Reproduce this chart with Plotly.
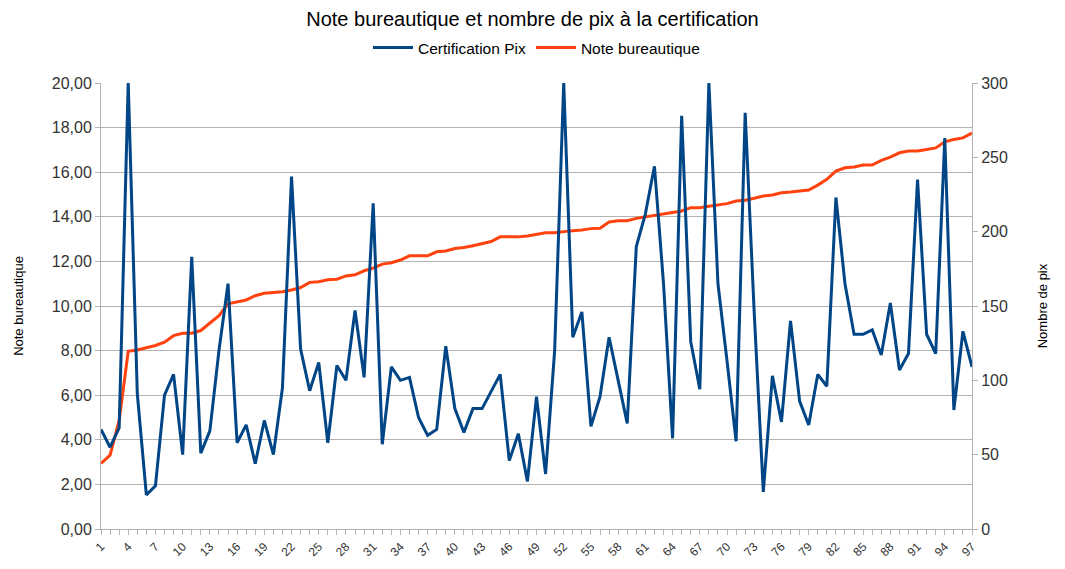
import plotly.graph_objects as go

# category index 1..97
categories = list(range(1, 98))

certification_pix = [
    67, 55, 68, 300, 91, 23, 29, 90, 104, 50,
    183, 51, 66, 120, 165, 58, 70, 44, 73, 50,
    95, 237, 121, 93, 112, 58, 110, 100, 147, 102,
    219, 57, 109, 100, 102, 75, 63, 67, 123, 81,
    65, 81, 81, 93, 104, 46, 64, 32, 89, 37,
    120, 300, 129, 146, 69, 89, 129, 100, 71, 190,
    212, 244, 165, 61, 278, 126, 94, 300, 165, 113,
    59, 280, 145, 25, 103, 72, 140, 86, 70, 104,
    96, 223, 165, 131, 131, 134, 117, 152, 107, 118,
    235, 131, 118, 263, 80, 133, 109,
]

note_bureautique = [
    2.94, 3.31, 4.87, 7.97, 8.03, 8.12, 8.23, 8.38, 8.67, 8.78,
    8.78, 8.90, 9.22, 9.57, 10.10, 10.19, 10.27, 10.46, 10.57, 10.61,
    10.64, 10.72, 10.83, 11.06, 11.09, 11.18, 11.20, 11.35, 11.40, 11.58,
    11.70, 11.88, 11.94, 12.06, 12.25, 12.25, 12.25, 12.43, 12.47, 12.58,
    12.62, 12.70, 12.80, 12.89, 13.10, 13.10, 13.10, 13.14, 13.20, 13.28,
    13.29, 13.35, 13.38, 13.41, 13.47, 13.49, 13.77, 13.82, 13.82, 13.93,
    13.99, 14.07, 14.14, 14.19, 14.26, 14.41, 14.41, 14.47, 14.54, 14.59,
    14.71, 14.74, 14.83, 14.93, 14.98, 15.08, 15.11, 15.14, 15.20, 15.42,
    15.68, 16.05, 16.20, 16.23, 16.32, 16.32, 16.53, 16.68, 16.87, 16.95,
    16.95, 17.02, 17.09, 17.36, 17.47, 17.54, 17.76,
]

left_ticks = [0, 2, 4, 6, 8, 10, 12, 14, 16, 18, 20]
right_ticks = [0, 50, 100, 150, 200, 250, 300]
x_ticks = list(range(1, 98, 3))

BLUE = "#004586"
ORANGE = "#ff420e"
GRID = "#b3b3b3"
FONT = "Liberation Sans, Arial, sans-serif"

# the page body has an 8px margin, so the figure is 16px smaller than the window
W, H = 1049, 553
PLOT_H = 446

fig = go.Figure()
fig.add_trace(go.Scatter(
    x=categories, y=note_bureautique, name="Note bureautique",
    mode="lines", line=dict(color=ORANGE, width=3), yaxis="y", legendrank=2,
))
fig.add_trace(go.Scatter(
    x=categories, y=certification_pix, name="Certification Pix",
    mode="lines", line=dict(color=BLUE, width=3), yaxis="y2", legendrank=1,
))

fig.update_layout(
    width=W, height=H,
    margin=dict(l=93, r=85, t=75, b=32, pad=0, autoexpand=False),
    paper_bgcolor="white", plot_bgcolor="white",
    separators=", ",
    font=dict(family=FONT, size=12, color="#333333"),
    title=dict(text="Note bureautique et nombre de pix à la certification",
               x=0.5, xanchor="center", y=1 - 4 / H, yanchor="top", yref="container",
               pad=dict(t=0, b=0),
               font=dict(size=20, color="#000000", family=FONT)),
    showlegend=True,
    legend=dict(orientation="h", x=0.5, xanchor="center", y=1 + 35 / PLOT_H, yanchor="middle",
                font=dict(size=15.5, color="#000000"), bgcolor="rgba(0,0,0,0)",
                itemwidth=40, tracegroupgap=0),
    xaxis=dict(
        range=[1, 97], tickmode="array", tickvals=x_ticks,
        ticktext=[str(v) for v in x_ticks], automargin=False,
        tickangle=-45, tickfont=dict(size=12, color="#333333"),
        showgrid=False, showline=True, linecolor=GRID, linewidth=1,
        ticks="outside", ticklen=5, tickcolor=GRID,
        minor=dict(dtick=1, tick0=1, ticks="outside", ticklen=5, tickcolor=GRID, showgrid=False),
        zeroline=False,
    ),
    yaxis=dict(
        range=[0, 20], tickmode="array", tickvals=left_ticks, automargin=False,
        tickformat=".2f", tickfont=dict(size=16, color="#333333"),
        showgrid=True, gridcolor=GRID, gridwidth=1,
        showline=True, linecolor=GRID, linewidth=1,
        ticks="outside", ticklen=5, tickcolor=GRID, zeroline=False,
        title=dict(text="Note bureautique", font=dict(size=13, color="#000000"), standoff=25),
    ),
    yaxis2=dict(
        range=[0, 300], tickmode="array", tickvals=right_ticks, automargin=False,
        overlaying="y", side="right", tickfont=dict(size=16, color="#333333"),
        showgrid=False, showline=True, linecolor=GRID, linewidth=1,
        ticks="outside", ticklen=5, tickcolor=GRID, zeroline=False,
        title=dict(text="Nombre de pix", font=dict(size=13, color="#000000"), standoff=30),
    ),
)

fig.write_html("out.html")
